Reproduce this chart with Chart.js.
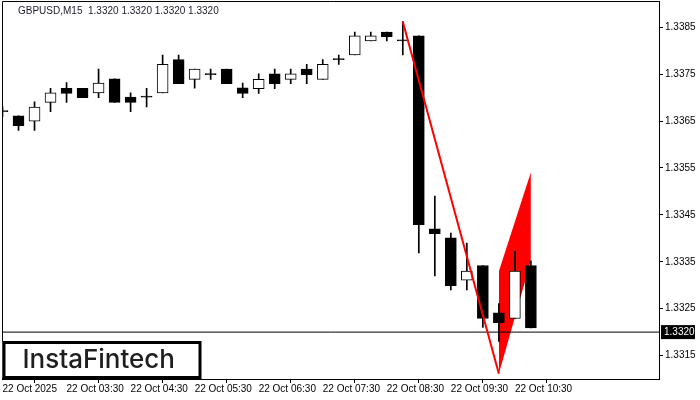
<!DOCTYPE html>
<html>
<head>
<meta charset="utf-8">
<script src="https://cdn.jsdelivr.net/npm/chart.js@4.4.0/dist/chart.umd.min.js"></script>
<style>
html,body{margin:0;padding:0;background:#fff;}
</style>
</head>
<body>
<canvas id="candle-chart" width="700" height="400"></canvas>
<script>
var symbolTitle = "GBPUSD,M15  1.3320 1.3320 1.3320 1.3320";
var logoText = "InstaFintech";
var lastPrice = 1.3320;

// M15 bars, index 0 = 22 Oct 02:30
var opens  = [1.33670,1.33661,1.33650,1.33690,1.33720,1.33720,1.33710,1.33740,1.33701,1.33701,
              1.33710,1.33781,1.33739,1.33749,1.33761,1.33721,1.33719,1.33751,1.33739,1.33761,
              1.33739,1.33781,1.33791,1.33821,1.33840,1.33821,1.33832,1.33420,1.33401,1.33311,
              1.33342,1.33241,1.33229,1.33342];
var highs  = [1.33681,1.33661,1.33691,1.33720,1.33732,1.33720,1.33761,1.33740,1.33710,1.33720,
              1.33791,1.33791,1.33761,1.33761,1.33761,1.33731,1.33751,1.33761,1.33761,1.33771,
              1.33781,1.33791,1.33840,1.33840,1.33840,1.33862,1.33832,1.33490,1.33411,1.33390,
              1.33342,1.33261,1.33372,1.33352];
var lows   = [1.33660,1.33630,1.33630,1.33670,1.33690,1.33700,1.33700,1.33690,1.33670,1.33680,
              1.33710,1.33730,1.33720,1.33739,1.33730,1.33700,1.33709,1.33719,1.33730,1.33730,
              1.33739,1.33771,1.33791,1.33821,1.33821,1.33791,1.33369,1.33320,1.33290,1.33290,
              1.33210,1.33180,1.33229,1.33209];
var closes = [1.33670,1.33640,1.33680,1.33710,1.33709,1.33700,1.33731,1.33690,1.33690,1.33701,
              1.33771,1.33730,1.33761,1.33749,1.33730,1.33709,1.33739,1.33730,1.33751,1.33749,
              1.33771,1.33781,1.33832,1.33832,1.33830,1.33821,1.33429,1.33410,1.33299,1.33330,
              1.33229,1.33220,1.33330,1.33209];

var priceTicks = [1.3315,1.3325,1.3335,1.3345,1.3355,1.3365,1.3375,1.3385];
var timeTicks  = [0,4,8,12,16,20,24,28,32];
var timeLabels = ["22 Oct 2025","22 Oct 03:30","22 Oct 04:30","22 Oct 05:30","22 Oct 06:30",
                  "22 Oct 07:30","22 Oct 08:30","22 Oct 09:30","22 Oct 10:30"];

// bearish flag pattern
var poleLine   = [{x:25,y:1.33862},{x:31,y:1.33111}];
var flagUpper  = [{x:31,y:1.33330},{x:33,y:1.33541}];
var flagLower  = [{x:31,y:1.33111},{x:33,y:1.33352}];

var wicks = [], bodies = [], bodyColors = [];
for (var i = 0; i < opens.length; i++)
{
  wicks.push({x:i, y:[lows[i], highs[i]]});
  bodies.push({x:i, y:[opens[i], closes[i]]});
  bodyColors.push(closes[i] > opens[i] ? "#ffffff" : "#000000");
}

var decorPlugin = {
  id: "decor",
  afterDraw: function(chart)
  {
    var ctx = chart.ctx, a = chart.chartArea, y = chart.scales.y;
    ctx.save();
    // frame
    ctx.strokeStyle = "#000";
    ctx.lineWidth = 1;
    ctx.beginPath();
    ctx.moveTo(a.left, a.bottom);
    ctx.lineTo(a.left, a.top);
    ctx.lineTo(a.right, a.top);
    ctx.stroke();
    // title
    ctx.fillStyle = "#1b1b2b";
    ctx.font = "10px 'Liberation Sans'";
    ctx.textBaseline = "alphabetic";
    ctx.fillText(symbolTitle, a.left + 15.5, 14);
    // logo
    ctx.fillStyle = "#fff";
    ctx.fillRect(a.left, a.bottom - 38, 198, 37);
    ctx.lineWidth = 3;
    ctx.strokeRect(a.left + 1.5, a.bottom - 36.5, 196, 35);
    ctx.fillStyle = "#1e1e1e";
    ctx.font = "500 26px Inter";
    ctx.fillText(logoText, a.left + 20, a.bottom - 11);
    // last price label
    var py = y.getPixelForValue(lastPrice);
    ctx.fillStyle = "#000";
    ctx.fillRect(a.right + 2, py - 7, 34, 14);
    ctx.fillStyle = "#fff";
    ctx.font = "10px 'Liberation Sans'";
    ctx.textBaseline = "middle";
    ctx.fillText(lastPrice.toFixed(4), a.right + 5, py + 0.5);
    ctx.restore();
  }
};

new Chart(document.getElementById("candle-chart"),
{
  type: "bar",
  data:
  {
    datasets:
    [
      {
        type: "line",
        data: poleLine,
        borderColor: "#ff0000",
        borderWidth: 2,
        pointRadius: 0,
        fill: false,
        order: 0
      },
      {
        type: "line",
        data: [{x:0,y:lastPrice},{x:41,y:lastPrice}],
        borderColor: "#000000",
        borderWidth: 1,
        pointRadius: 0,
        fill: false,
        order: 1
      },
      {
        data: bodies,
        backgroundColor: bodyColors,
        borderColor: "#000000",
        borderWidth: 1,
        borderSkipped: false,
        barThickness: 11,
        minBarLength: 1,
        grouped: false,
        order: 2
      },
      {
        data: wicks,
        backgroundColor: "#000000",
        borderWidth: 0,
        barThickness: 1,
        grouped: false,
        order: 3
      },
      {
        type: "line",
        data: flagUpper,
        borderWidth: 0,
        borderColor: "rgba(0,0,0,0)",
        backgroundColor: "#ff0000",
        pointRadius: 0,
        fill: "+1",
        order: 4
      },
      {
        type: "line",
        data: flagLower,
        borderWidth: 0,
        borderColor: "rgba(0,0,0,0)",
        pointRadius: 0,
        fill: false,
        order: 5
      }
    ]
  },
  options:
  {
    responsive: false,
    animation: false,
    devicePixelRatio: 1,
    layout: { padding: { left: 2.5, top: 1.5, right: 0, bottom: 0 } },
    plugins: { legend: { display: false }, tooltip: { enabled: false }, title: { display: false } },
    scales:
    {
      x:
      {
        type: "linear",
        min: 0,
        max: 41,
        offset: false,
        afterFit: function(s) { s.height = 21; s.paddingLeft = 0; s.paddingRight = 0; },
        afterBuildTicks: function(s) { s.ticks = timeTicks.map(function(v){ return {value: v}; }); },
        grid: { drawOnChartArea: false, drawTicks: true, tickLength: 4, color: "#000" },
        border: { display: true, color: "#000" },
        ticks:
        {
          autoSkip: false,
          maxRotation: 0,
          align: "start",
          padding: 0,
          color: "#000",
          font: { family: "'Liberation Sans'", size: 10 },
          callback: function(v) { var k = timeTicks.indexOf(v); return k >= 0 ? timeLabels[k] : ""; }
        }
      },
      y:
      {
        position: "right",
        min: 1.3310,
        max: 1.33905,
        afterFit: function(s) { s.width = 41; s.paddingTop = 0; s.paddingBottom = 0; },
        afterBuildTicks: function(s) { s.ticks = priceTicks.map(function(v){ return {value: v}; }); },
        grid: { drawOnChartArea: false, drawTicks: true, tickLength: 4, color: "#000" },
        border: { display: true, color: "#000" },
        ticks:
        {
          padding: 2,
          color: "#000",
          font: { family: "'Liberation Sans'", size: 10 },
          callback: function(v) { return Number(v).toFixed(4); }
        }
      }
    }
  },
  plugins: [decorPlugin]
});
</script>
</body>
</html>
